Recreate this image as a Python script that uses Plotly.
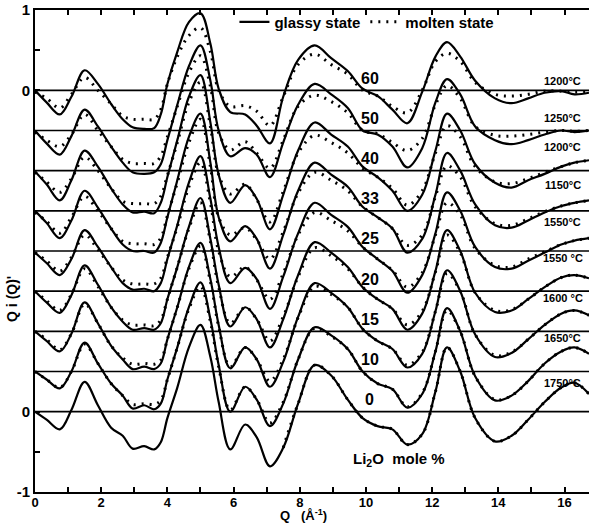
import plotly.graph_objects as go

# ---------------- data ----------------
Q = [0, 0.35, 0.75, 1.1, 1.5, 1.9, 2.3, 2.65, 2.95, 3.3, 3.6, 3.8, 4.0, 4.3, 4.65,
     5.0, 5.3, 5.55, 5.9, 6.35, 6.7, 7.1, 7.5, 7.95, 8.45, 8.95, 9.45, 9.9, 10.35,
     10.8, 11.25, 11.7, 12.1, 12.45, 12.85, 13.3, 13.9, 14.4, 14.9, 15.4, 15.9,
     16.3, 16.74]

COMPOSITIONS = ["60", "50", "40", "33", "25", "20", "15", "10", "0"]
TEMPERATURES = ["1200°C", "1250°C", "1200°C", "1150°C", "1550°C", "1550 °C",
                "1600 °C", "1650°C", "1750°C"]

# glassy state (solid)
G60 = [0.0, -0.15, -0.30, -0.08, 0.25, 0.08, -0.17, -0.36, -0.46, -0.48, -0.47, -0.30, 0.08, 0.48, 0.85,
       0.96, 0.58, 0.02, -0.27, -0.30, -0.44, -0.66, -0.08, 0.38, 0.56, 0.40, 0.24, 0.02, -0.07,
       -0.24, -0.41, -0.02, 0.42, 0.60, 0.42, 0.12, -0.10, -0.16, -0.10, -0.03, -0.01, -0.05, -0.03]
G50 = [0.0, -0.16, -0.30, -0.07, 0.26, 0.05, -0.20, -0.40, -0.52, -0.54, -0.52, -0.42, -0.12, 0.32, 0.80,
       1.06, 0.62, 0.0, -0.32, -0.22, -0.30, -0.58, -0.15, 0.32, 0.58, 0.45, 0.28, 0.0, -0.05,
       -0.20, -0.46, -0.22, 0.35, 0.64, 0.45, 0.05, -0.12, -0.17, -0.12, -0.05, 0.0, -0.02, 0.0]
G40 = [-0.01, -0.17, -0.37, -0.12, 0.25, 0.05, -0.22, -0.42, -0.52, -0.51, -0.53, -0.40, -0.08, 0.38, 0.92,
       1.19, 0.60, -0.05, -0.40, -0.18, -0.35, -0.73, -0.30, 0.25, 0.60, 0.45, 0.30, 0.05, -0.08,
       -0.25, -0.50, -0.30, 0.25, 0.71, 0.50, 0.08, -0.15, -0.21, -0.12, -0.04, 0.05, 0.10, 0.13]
G33 = [0.0, -0.15, -0.34, -0.12, 0.25, 0.04, -0.22, -0.42, -0.50, -0.50, -0.52, -0.40, -0.08, 0.38, 0.92,
       1.21, 0.60, -0.08, -0.38, -0.19, -0.35, -0.72, -0.30, 0.25, 0.60, 0.45, 0.30, 0.05, -0.08,
       -0.22, -0.52, -0.35, 0.20, 0.72, 0.50, 0.08, -0.18, -0.21, -0.12, -0.02, 0.06, 0.10, 0.13]
G25 = [-0.02, -0.15, -0.30, -0.10, 0.26, 0.05, -0.20, -0.40, -0.48, -0.47, -0.50, -0.40, -0.10, 0.32, 0.85,
       1.18, 0.65, 0.05, -0.40, -0.21, -0.35, -0.72, -0.32, 0.22, 0.60, 0.45, 0.30, 0.05, -0.10,
       -0.25, -0.52, -0.30, 0.22, 0.73, 0.50, 0.05, -0.20, -0.22, -0.12, -0.02, 0.08, 0.13, 0.16]
G20 = [0.0, -0.14, -0.27, -0.05, 0.32, 0.08, -0.20, -0.38, -0.48, -0.46, -0.48, -0.40, -0.10, 0.30, 0.80,
       1.16, 0.65, 0.08, -0.44, -0.20, -0.35, -0.70, -0.35, 0.20, 0.61, 0.48, 0.30, 0.05, -0.10,
       -0.22, -0.48, -0.28, 0.25, 0.76, 0.50, -0.02, -0.26, -0.24, -0.10, 0.05, 0.17, 0.20, 0.16]
G15 = [0.0, -0.12, -0.25, -0.03, 0.36, 0.10, -0.18, -0.35, -0.47, -0.44, -0.47, -0.40, -0.10, 0.30, 0.80,
       1.10, 0.65, 0.08, -0.46, -0.20, -0.35, -0.69, -0.38, 0.18, 0.60, 0.48, 0.30, 0.03, -0.12,
       -0.22, -0.45, -0.28, 0.25, 0.76, 0.50, -0.04, -0.32, -0.27, -0.10, 0.08, 0.22, 0.26, 0.20]
G10 = [0.0, -0.10, -0.21, 0.0, 0.36, 0.10, -0.15, -0.30, -0.46, -0.42, -0.47, -0.40, -0.10, 0.30, 0.80,
       1.11, 0.65, 0.08, -0.50, -0.19, -0.35, -0.68, -0.40, 0.15, 0.55, 0.45, 0.28, 0.0, -0.15,
       -0.22, -0.45, -0.28, 0.25, 0.79, 0.50, -0.06, -0.36, -0.30, -0.12, 0.10, 0.25, 0.30, 0.22]
G0 = [0.0, -0.10, -0.22, 0.02, 0.37, 0.08, -0.20, -0.30, -0.46, -0.43, -0.47, -0.38, -0.08, 0.30, 0.80,
      1.08, 0.68, 0.12, -0.47, -0.16, -0.32, -0.68, -0.45, 0.10, 0.58, 0.45, 0.15, -0.08, -0.18,
      -0.22, -0.41, -0.28, 0.25, 0.80, 0.50, -0.08, -0.37, -0.30, -0.10, 0.12, 0.30, 0.36, 0.22]

# molten state (dotted)
M60 = [-0.02, -0.10, -0.22, -0.05, 0.16, 0.0, -0.17, -0.32, -0.36, -0.36, -0.36, -0.24, 0.08, 0.42, 0.68,
       0.78, 0.48, 0.0, -0.20, -0.19, -0.26, -0.44, -0.08, 0.32, 0.45, 0.32, 0.20, 0.0, -0.07,
       -0.20, -0.28, 0.0, 0.36, 0.46, 0.36, 0.10, -0.05, -0.07, -0.05, -0.01, -0.01, -0.02, -0.01]
M50 = [-0.02, -0.12, -0.20, -0.05, 0.20, 0.0, -0.20, -0.36, -0.41, -0.41, -0.41, -0.32, -0.08, 0.30, 0.72,
       0.93, 0.55, -0.03, -0.24, -0.14, -0.28, -0.47, -0.12, 0.30, 0.44, 0.36, 0.22, 0.0, -0.04,
       -0.15, -0.25, -0.10, 0.32, 0.56, 0.40, 0.05, -0.06, -0.07, -0.05, -0.02, 0.0, -0.01, 0.0]
M40 = [-0.02, -0.14, -0.27, -0.10, 0.17, 0.0, -0.22, -0.38, -0.41, -0.41, -0.41, -0.32, -0.06, 0.35, 0.85,
       1.10, 0.55, -0.05, -0.29, -0.17, -0.36, -0.64, -0.26, 0.22, 0.44, 0.35, 0.22, 0.03, -0.08,
       -0.22, -0.43, -0.25, 0.22, 0.56, 0.42, 0.05, -0.14, -0.16, -0.10, -0.02, 0.05, 0.10, 0.13]
M33 = [-0.02, -0.13, -0.28, -0.08, 0.18, 0.0, -0.22, -0.38, -0.41, -0.41, -0.42, -0.34, -0.06, 0.35, 0.85,
       1.14, 0.55, -0.08, -0.30, -0.21, -0.36, -0.60, -0.26, 0.22, 0.48, 0.38, 0.25, 0.05, -0.08,
       -0.22, -0.43, -0.30, 0.18, 0.56, 0.42, 0.05, -0.16, -0.18, -0.10, -0.01, 0.06, 0.10, 0.13]
M25 = [-0.02, -0.12, -0.25, -0.08, 0.20, 0.02, -0.20, -0.36, -0.41, -0.41, -0.41, -0.34, -0.08, 0.30, 0.80,
       1.10, 0.60, 0.0, -0.32, -0.20, -0.36, -0.60, -0.28, 0.20, 0.48, 0.38, 0.25, 0.05, -0.10,
       -0.24, -0.45, -0.27, 0.20, 0.60, 0.45, 0.03, -0.18, -0.20, -0.10, -0.01, 0.08, 0.13, 0.16]
M20 = [0.0, -0.12, -0.24, -0.04, 0.28, 0.06, -0.20, -0.36, -0.42, -0.42, -0.43, -0.36, -0.10, 0.30, 0.78,
       1.10, 0.62, 0.05, -0.40, -0.20, -0.35, -0.62, -0.32, 0.18, 0.54, 0.44, 0.28, 0.05, -0.10,
       -0.22, -0.42, -0.25, 0.24, 0.70, 0.48, -0.02, -0.24, -0.23, -0.10, 0.05, 0.17, 0.20, 0.16]
M15 = [0.0, -0.10, -0.23, -0.03, 0.34, 0.10, -0.18, -0.33, -0.41, -0.40, -0.41, -0.36, -0.10, 0.30, 0.78,
       1.06, 0.62, 0.06, -0.44, -0.20, -0.35, -0.62, -0.35, 0.17, 0.56, 0.46, 0.30, 0.03, -0.12,
       -0.22, -0.42, -0.26, 0.25, 0.72, 0.50, -0.04, -0.30, -0.26, -0.10, 0.08, 0.22, 0.26, 0.20]
M10 = [0.0, -0.10, -0.20, 0.0, 0.34, 0.10, -0.15, -0.30, -0.41, -0.40, -0.41, -0.36, -0.10, 0.30, 0.78,
       1.06, 0.62, 0.06, -0.48, -0.19, -0.35, -0.64, -0.38, 0.15, 0.54, 0.44, 0.28, 0.0, -0.15,
       -0.22, -0.44, -0.27, 0.25, 0.76, 0.50, -0.06, -0.35, -0.30, -0.12, 0.10, 0.25, 0.30, 0.22]
M0 = [None] * 22 + [-0.45, 0.10, 0.58, 0.45, 0.15, -0.08, -0.18, -0.22, -0.41, -0.28, 0.25, 0.80,
                    0.50, -0.08, -0.37, -0.30, -0.10, 0.12, 0.30, 0.36, 0.22]

OFFSET_STEP = 0.5

X_TICKS = list(range(0, 17))
X_TICK_TEXT = [str(v) if v % 2 == 0 else "" for v in X_TICKS]
Y_TICKS = [-1, -0.5, 0, 4, 4.5, 5]
Y_TICK_TEXT = ["-1", "", "0", "0", "", "1"]

# ---------------- figure ----------------
GLASSY = [G60, G50, G40, G33, G25, G20, G15, G10, G0]
MOLTEN = [M60, M50, M40, M33, M25, M20, M15, M10, M0]
n = len(COMPOSITIONS)
FONT = "Liberation Sans"

# label placement relative to each baseline (layout styling)
TEMP_DY = [0.12, 0.16, 0.29, 0.32, 0.36, 0.41, 0.42, 0.42, 0.36]

fig = go.Figure()
shapes = []
annotations = []

for i in range(n):
    off = (n - 1 - i) * OFFSET_STEP
    shapes.append(dict(type="line", xref="paper", yref="y", x0=0, x1=1, y0=off, y1=off,
                       line=dict(color="black", width=1.6), layer="below"))
    m = MOLTEN[i]
    fig.add_trace(go.Scatter(
        x=Q, y=[None if v is None else v + off for v in m], mode="lines",
        line=dict(color="black", width=3, dash="2px,6px", shape="spline", smoothing=1.0),
        name="molten state", showlegend=(i == 0), legendrank=2, hoverinfo="skip"))
    fig.add_trace(go.Scatter(
        x=Q, y=[v + off for v in GLASSY[i]], mode="lines",
        line=dict(color="black", width=2.2, shape="spline", smoothing=1.0),
        name="glassy state", showlegend=(i == 0), legendrank=1, hoverinfo="skip"))
    annotations.append(dict(x=10.12, y=off + 0.15, xref="x", yref="y", text=COMPOSITIONS[i],
                            showarrow=False, font=dict(family=FONT, size=16, weight="bold"),
                            xanchor="center", yanchor="middle"))
    annotations.append(dict(x=15.95, y=off + TEMP_DY[i], xref="x", yref="y",
                            text=TEMPERATURES[i], showarrow=False,
                            font=dict(family=FONT, size=11, weight="bold"),
                            xanchor="center", yanchor="middle"))

annotations.append(dict(x=-0.042, y=0.40, xref="paper", yref="paper", text="Q i (Q)'",
                        textangle=-90, showarrow=False,
                        font=dict(family=FONT, size=14, weight="bold"),
                        xanchor="center", yanchor="middle"))
annotations.append(dict(x=0.484, y=-0.047, xref="paper", yref="paper",
                        text="Q   (Å<sup>-1</sup>)", showarrow=False,
                        font=dict(family=FONT, size=13, weight="bold"),
                        xanchor="center", yanchor="middle"))
annotations.append(dict(x=11.0, y=-0.6, xref="x", yref="y",
                        text="Li<sub>2</sub>O  mole %", showarrow=False,
                        font=dict(family=FONT, size=15, weight="bold"),
                        xanchor="center", yanchor="middle"))

fig.update_layout(
    width=589, height=528,
    margin=dict(l=35, r=0, t=10, b=36, autoexpand=False),
    paper_bgcolor="white", plot_bgcolor="white",
    font=dict(family=FONT, size=14, color="black"),
    shapes=shapes, annotations=annotations,
    showlegend=True,
    legend=dict(orientation="h", x=0.36, y=0.975, xanchor="left", yanchor="middle",
                bgcolor="rgba(0,0,0,0)", font=dict(family=FONT, size=15, weight="bold"),
                itemwidth=30, traceorder="normal"),
    xaxis=dict(range=[0, 16.74], tickvals=X_TICKS, ticktext=X_TICK_TEXT,
               ticks="inside", ticklen=5, tickwidth=1.5, tickcolor="black",
               showline=True, linecolor="black", linewidth=2, mirror="ticks",
               showgrid=False, zeroline=False, ticklabelstandoff=-3,
               tickfont=dict(family=FONT, size=13, weight="bold")),
    yaxis=dict(range=[-1, 5], tickvals=Y_TICKS, ticktext=Y_TICK_TEXT,
               ticks="inside", ticklen=5, tickwidth=1.5, tickcolor="black",
               showline=True, linecolor="black", linewidth=2, mirror=False,
               showgrid=False, zeroline=False,
               tickfont=dict(family=FONT, size=15, weight="bold")),
)

fig.write_html("out.html", config={"displayModeBar": False},
               post_script="document.body.style.margin='0';")
